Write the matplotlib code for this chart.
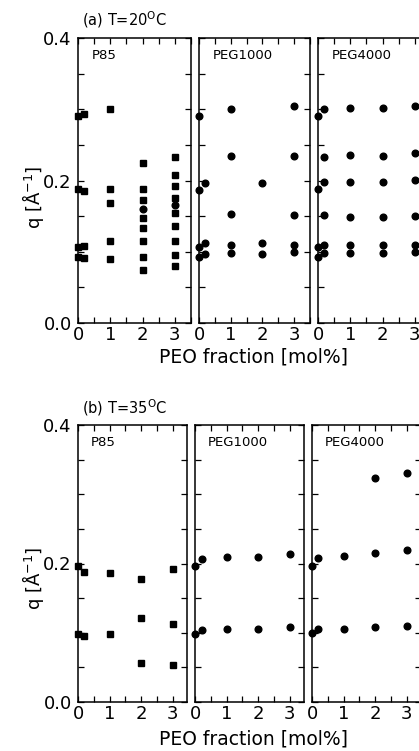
import numpy as np
import matplotlib.pyplot as plt
from matplotlib.ticker import MultipleLocator

plt.rcParams['font.family'] = ['DejaVu Sans']
plt.rcParams['mathtext.default'] = 'regular'

# ---- (a) T=20C ----
# P85 squares / circles
a_p85_sq_x = [0, 0, 0, 0, 0.2, 0.2, 0.2, 0.2,
              1, 1, 1, 1, 1,
              2, 2, 2, 2, 2, 2, 2, 2,
              3, 3, 3, 3, 3, 3, 3, 3, 3]
a_p85_sq_q = [0.290, 0.188, 0.107, 0.092, 0.293, 0.185, 0.108, 0.091,
              0.300, 0.188, 0.168, 0.115, 0.090,
              0.225, 0.188, 0.172, 0.148, 0.133, 0.115, 0.092, 0.074,
              0.233, 0.208, 0.192, 0.176, 0.154, 0.136, 0.1155, 0.096, 0.080]
a_p85_ci_x = [2, 3]
a_p85_ci_q = [0.160, 0.165]

a_peg1k_x = [0, 0, 0, 0, 0.18, 0.18, 0.18,
             1, 1, 1, 1, 1,
             2, 2, 2,
             3, 3, 3, 3, 3]
a_peg1k_q = [0.290, 0.186, 0.107, 0.093, 0.196, 0.112, 0.097,
             0.301, 0.234, 0.153, 0.109, 0.098,
             0.197, 0.112, 0.097,
             0.304, 0.235, 0.152, 0.109, 0.099]

a_peg4k_x = [0, 0, 0, 0,
             0.2, 0.2, 0.2, 0.2, 0.2, 0.2,
             1, 1, 1, 1, 1, 1,
             2, 2, 2, 2, 2, 2,
             3, 3, 3, 3, 3, 3]
a_peg4k_q = [0.290, 0.188, 0.107, 0.093,
             0.301, 0.233, 0.198, 0.151, 0.109, 0.098,
             0.302, 0.236, 0.198, 0.149, 0.110, 0.098,
             0.302, 0.235, 0.198, 0.149, 0.110, 0.098,
             0.304, 0.238, 0.201, 0.150, 0.110, 0.100]

# ---- (b) T=35C ----
b_p85_x = [0, 0, 0.2, 0.2, 1, 1, 2, 2, 2, 3, 3, 3]
b_p85_q = [0.196, 0.098, 0.188, 0.095, 0.187, 0.098,
           0.177, 0.121, 0.056, 0.192, 0.112, 0.053]

b_peg1k_x = [0, 0, 0.22, 0.22, 1, 1, 2, 2, 3, 3]
b_peg1k_q = [0.196, 0.098, 0.207, 0.104, 0.209, 0.105,
             0.210, 0.106, 0.214, 0.108]

b_peg4k_x = [0, 0, 0.2, 0.2, 1, 1, 2, 2, 2, 3, 3, 3]
b_peg4k_q = [0.196, 0.099, 0.208, 0.105, 0.211, 0.106,
             0.324, 0.215, 0.108, 0.330, 0.219, 0.110]

names = ['P85', 'PEG1000', 'PEG4000']

W, H = 419, 751
fig = plt.figure(figsize=(W / 100, H / 100), dpi=100)


def px_axes(left, top, width, height):
    return fig.add_axes([left / W, (H - top - height) / H, width / W, height / H])


def style(ax, xmax, first):
    ax.set_xlim(0, xmax)
    ax.set_ylim(0, 0.4)
    ax.set_xticks([0, 1, 2, 3])
    ax.xaxis.set_minor_locator(MultipleLocator(0.5))
    ax.yaxis.set_major_locator(MultipleLocator(0.2))
    ax.yaxis.set_minor_locator(MultipleLocator(0.05))
    ax.tick_params(which='both', direction='in', top=True, right=True,
                   length=4, width=0.9, labelsize=13)
    ax.tick_params(axis='x', pad=2)
    ax.tick_params(axis='y', pad=4.5)
    if not first:
        ax.tick_params(labelleft=False)
    for s in ax.spines.values():
        s.set_linewidth(1.1)


def pts(ax, x, q, m):
    ax.plot(x, q, m, color='black', ls='none', ms=4.4 if m == 's' else 4.8,
            clip_on=False)


rows = [
    dict(top=38, h=285, lefts=[78, 199, 318], w=[113, 111, 113], xmax=3.5),
    dict(top=425, h=277, lefts=[78, 195, 312], w=[109, 109, 109], xmax=3.45),
]

axs_a = [px_axes(l, rows[0]['top'], w, rows[0]['h'])
         for l, w in zip(rows[0]['lefts'], rows[0]['w'])]
axs_b = [px_axes(l, rows[1]['top'], w, rows[1]['h'])
         for l, w in zip(rows[1]['lefts'], rows[1]['w'])]

for i, ax in enumerate(axs_a):
    style(ax, rows[0]['xmax'], i == 0)
for i, ax in enumerate(axs_b):
    style(ax, rows[1]['xmax'], i == 0)

pts(axs_a[0], a_p85_sq_x, a_p85_sq_q, 's')
pts(axs_a[0], a_p85_ci_x, a_p85_ci_q, 'o')
pts(axs_a[1], a_peg1k_x, a_peg1k_q, 'o')
pts(axs_a[2], a_peg4k_x, a_peg4k_q, 'o')

pts(axs_b[0], b_p85_x, b_p85_q, 's')
pts(axs_b[1], b_peg1k_x, b_peg1k_q, 'o')
pts(axs_b[2], b_peg4k_x, b_peg4k_q, 'o')

for axs in (axs_a, axs_b):
    for ax, n in zip(axs, names):
        ax.text(0.12, 0.96, n, transform=ax.transAxes, fontsize=9.5,
                ha='left', va='top')

fig.text(82 / W, 1 - 20 / H, r'(a) T=20$^{O}$C', fontsize=10.5, va='center')
fig.text(82 / W, 1 - 408 / H, r'(b) T=35$^{O}$C', fontsize=10.5, va='center')

fig.text(33 / W, 1 - 197 / H, r'q [$\AA^{-1}$]', fontsize=13, rotation=90,
         ha='center', va='center')
fig.text(33 / W, 1 - 578 / H, r'q [$\AA^{-1}$]', fontsize=13, rotation=90,
         ha='center', va='center')

fig.text(253 / W, 1 - 357 / H, 'PEO fraction [mol%]', fontsize=13.5,
         ha='center', va='center')
fig.text(253 / W, 1 - 739 / H, 'PEO fraction [mol%]', fontsize=13.5,
         ha='center', va='center')

fig.savefig('out.png', dpi=100)
